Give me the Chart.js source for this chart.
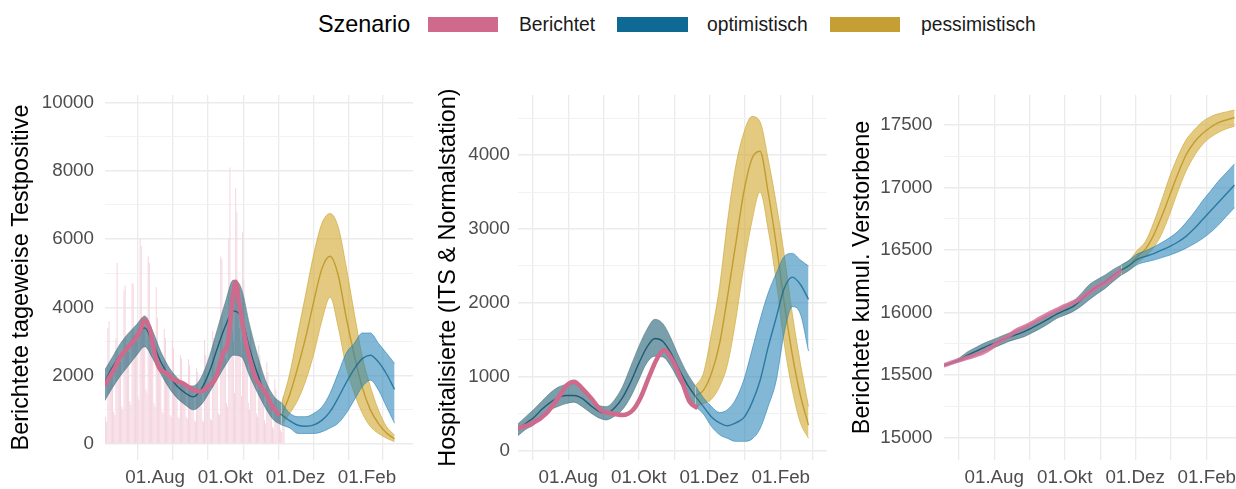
<!DOCTYPE html>
<html>
<head>
<meta charset="utf-8">
<script src="https://cdn.jsdelivr.net/npm/chart.js@4.4.1/dist/chart.umd.min.js"></script>
<style>
  body { margin: 0; width: 1236px; height: 489px; overflow: hidden; background: #fff; position: relative;
         font-family: 'Liberation Sans', Arial, sans-serif; }
  .panel { position: absolute; top: 80px; height: 409px; }
  .lg { position: absolute; top: 12px; height: 25px; line-height: 25px; white-space: nowrap; color: #1a1a1a; font-size: 19.3px; }
  .lg.title { font-size: 23.4px; color: #000; }
  .key { position: absolute; top: 17px; height: 15px; }
</style>
</head>
<body>
<div class="lg title" style="left:318px">Szenario</div>
<div class="key" style="left:428px;width:70px;background:#CF6A8D"></div>
<div class="lg" style="left:519px">Berichtet</div>
<div class="key" style="left:617px;width:71px;background:#0E6994"></div>
<div class="lg" style="left:707px">optimistisch</div>
<div class="key" style="left:830px;width:70px;background:#C59E34"></div>
<div class="lg" style="left:921px">pessimistisch</div>

<div class="panel" style="left:0;width:413px"><canvas id="c1"></canvas></div>
<div class="panel" style="left:420px;width:407px"><canvas id="c2"></canvas></div>
<div class="panel" style="left:836px;width:417px"><canvas id="c3"></canvas></div>

<script>
// x axis: days counted from 01.Jul
var monthDays = [0, 31, 62, 92, 123, 153, 184, 215, 243];
var monthLabels = ['', '01.Aug', '', '01.Okt', '', '01.Dez', '', '01.Feb', ''];

// model runs: fitted part (shared) and forecast part per scenario
var fitDays = [-13, -6, 1, 8, 15, 22, 29, 36, 43, 50, 57, 64, 71, 78, 85, 92, 99, 106, 113, 120, 127, 134, 141];
var fcDays = [141, 148, 155, 162, 169, 176, 183, 190, 197, 204, 211, 218, 225, 232, 239];

// panel 1: daily test positives
var barStartDay = -13;
var dailyCases = [
  1900, 800, 650,
  3400, 3600, 2300, 2200, 2000, 950, 850,
  3100, 5300, 2600, 2500, 2400, 1100, 1000,
  4500, 4650, 2900, 2800, 2700, 1250, 1150,
  4700, 4700, 3200, 3100, 3000, 1400, 1300,
  6000, 5800, 3600, 3500, 3400, 1600, 1500,
  5500, 5300, 2900, 2700, 2500, 1200, 1100,
  4600, 3700, 2200, 2100, 2000, 950, 900,
  3370, 3100, 2000, 1950, 1900, 850, 800,
  3050, 2800, 1850, 1800, 1750, 800, 750,
  2600, 2500, 1800, 1750, 1700, 800, 750,
  2480, 2300, 1650, 1600, 1550, 700, 650,
  2220, 2100, 1600, 1550, 1500, 700, 650,
  3050, 2600, 1700, 1650, 1600, 750, 700,
  3300, 3100, 2000, 1950, 1900, 900, 850,
  5490, 5400, 2700, 2600, 2500, 1200, 1100,
  6000, 8100, 3500, 3300, 3000, 1500, 7500,
  6800, 3800, 3400, 3000, 1400, 6200, 4800,
  3000, 2800, 2600, 1200, 1000, 3300, 2800,
  2300, 2100, 1900, 900, 800, 2900, 2600,
  1800, 1600, 1500, 700, 600, 2400, 2100,
  1400, 1200, 1100, 500, 450, 1900, 1600,
  1000, 900, 850, 400, 350, 1400, 1300
];
var p1RepDays = [-13, -5, 1, 8, 15, 19, 21, 24, 27, 30, 34, 41, 48, 55, 62, 70, 77, 84, 90, 94, 98, 101, 104, 110, 115, 118, 121, 127, 133, 139];
var p1RepVals = [1700, 2170, 2560, 2850, 3140, 3400, 3630, 3550, 3300, 2750, 2270, 2070, 1870, 1780, 1630, 1530, 1680, 1970, 2650, 2950, 4120, 4750, 4120, 2950, 2270, 1950, 1780, 1490, 1090, 850];
var p1FitLo  = [1250, 1650, 2000, 2300, 2600, 2850, 2500, 2050, 1650, 1350, 1150, 1000, 1150, 1500, 1900, 2300, 2600, 2550, 2000, 1500, 1050, 700, 560];
var p1FitHi  = [2150, 2550, 2950, 3250, 3500, 3750, 3300, 2700, 2250, 1950, 1750, 1700, 1950, 2550, 3350, 4150, 4800, 4550, 3500, 2600, 1850, 1400, 1200];
var p1FitMid = [1800, 2250, 2600, 2900, 3200, 3400, 2950, 2400, 2000, 1700, 1500, 1380, 1600, 2100, 2800, 3450, 3900, 3700, 2800, 2050, 1450, 1050, 850];
var p1PesLo  = [560, 900, 1290, 1870, 2660, 3630, 4300, 3430, 2260, 1490, 900, 510, 310, 170, 70];
var p1PesHi  = [1200, 2070, 3250, 4420, 5590, 6470, 6750, 6360, 5190, 3830, 2560, 1680, 995, 510, 260];
var p1PesMid = [850, 1450, 2250, 3150, 4200, 5150, 5500, 4950, 3700, 2600, 1650, 1000, 600, 320, 150];
var p1OptLo  = [560, 470, 310, 310, 310, 360, 470, 610, 900, 1290, 1680, 1870, 1580, 1090, 610];
var p1OptHi  = [1200, 900, 800, 800, 900, 1090, 1490, 2070, 2660, 2950, 3250, 3250, 2950, 2660, 2360];
var p1OptMid = [850, 680, 550, 520, 560, 700, 950, 1350, 1800, 2200, 2500, 2600, 2400, 2050, 1600];

// panel 2: hospitalised
var p2RepDays = [-13, 0, 12, 23, 30, 36, 43, 52, 59, 68, 78, 87, 94, 101, 108, 114, 121, 129, 136, 143];
var p2RepVals = [306, 374, 509, 734, 892, 937, 847, 689, 554, 509, 486, 554, 734, 1005, 1252, 1365, 1230, 959, 667, 577];
var p2FitLo  = [200, 290, 350, 460, 550, 600, 640, 660, 600, 520, 450, 420, 470, 560, 730, 960, 1190, 1280, 1270, 1140, 940, 760, 600];
var p2FitHi  = [360, 460, 560, 670, 780, 860, 900, 910, 850, 730, 620, 600, 690, 870, 1140, 1410, 1640, 1780, 1720, 1520, 1270, 1050, 880];
var p2FitMid = [280, 370, 450, 560, 650, 720, 750, 750, 710, 620, 540, 510, 580, 720, 930, 1180, 1400, 1520, 1480, 1320, 1100, 900, 740];
var p2PesLo  = [600, 640, 700, 870, 1180, 1770, 2500, 3100, 3500, 3000, 2300, 1450, 820, 380, 170];
var p2PesHi  = [880, 1050, 1590, 2220, 3120, 3850, 4300, 4520, 4450, 3950, 3350, 2650, 1850, 1180, 600];
var p2PesMid = [740, 820, 1050, 1450, 2100, 2800, 3500, 3950, 4050, 3500, 2800, 2000, 1300, 750, 350];
var p2OptLo  = [600, 500, 330, 220, 170, 130, 130, 160, 300, 600, 950, 1600, 1950, 1850, 1350];
var p2OptHi  = [880, 720, 600, 520, 560, 700, 960, 1360, 1770, 2130, 2400, 2630, 2670, 2580, 2500];
var p2OptMid = [740, 600, 460, 380, 340, 380, 450, 650, 950, 1400, 1800, 2200, 2350, 2250, 2050];

// panel 3: cumulative deaths
var p3RepVals = [15578, 15600, 15621, 15640, 15661, 15685, 15725, 15775, 15810, 15855, 15885, 15918, 15955, 15990, 16021, 16052, 16080, 16112, 16160, 16205, 16240, 16285, 16341];
var p3FitLo  = [15572, 15592, 15610, 15634, 15660, 15688, 15714, 15740, 15768, 15788, 15808, 15840, 15874, 15912, 15954, 15980, 16008, 16050, 16101, 16150, 16194, 16250, 16301];
var p3FitHi  = [15582, 15606, 15640, 15688, 15722, 15755, 15781, 15808, 15834, 15860, 15888, 15920, 15954, 15988, 16021, 16055, 16088, 16150, 16221, 16265, 16301, 16345, 16381];
var p3FitMid = [15577, 15599, 15625, 15661, 15691, 15721, 15748, 15774, 15801, 15824, 15848, 15880, 15914, 15950, 15988, 16018, 16048, 16100, 16161, 16208, 16248, 16298, 16341];
var p3PesLo  = [16301, 16340, 16400, 16450, 16520, 16630, 16790, 16970, 17130, 17250, 17340, 17400, 17440, 17470, 17490];
var p3PesHi  = [16381, 16420, 16500, 16570, 16720, 16900, 17090, 17250, 17380, 17460, 17525, 17565, 17590, 17605, 17620];
var p3PesMid = [16341, 16380, 16450, 16510, 16620, 16770, 16940, 17110, 17260, 17360, 17430, 17480, 17520, 17540, 17560];
var p3OptLo  = [16301, 16340, 16385, 16405, 16420, 16440, 16460, 16485, 16515, 16550, 16590, 16640, 16700, 16770, 16840];
var p3OptHi  = [16381, 16420, 16470, 16495, 16525, 16560, 16600, 16650, 16720, 16800, 16890, 16970, 17050, 17120, 17190];
var p3OptMid = [16341, 16378, 16428, 16450, 16472, 16500, 16530, 16565, 16610, 16670, 16740, 16810, 16880, 16950, 17020];

var FONT = "'Liberation Sans', Arial, sans-serif";
var PINK = '#CF6A8D';
var fitStyle = { fill: 'rgba(30,95,115,0.6)', edge: 'rgba(80,120,125,0.7)', mid: 'rgba(20,80,105,0.85)' };
var pesStyle = { fill: 'rgba(212,174,62,0.66)', edge: 'rgba(205,165,50,0.8)', mid: 'rgba(185,145,30,0.8)' };
var optStyle = { fill: 'rgba(40,132,182,0.58)', edge: 'rgba(40,130,180,0.75)', mid: 'rgba(14,100,145,0.75)' };

function toXY(days, vals) {
    return days.map(function (d, i) { return { x: d, y: vals[i] }; });
}

function bandSets(days, lo, hi, mid, st, order) {
    return [
        { data: toXY(days, lo), borderColor: st.edge, borderWidth: 0.8, fill: false, order: order + 2 },
        { data: toXY(days, hi), borderColor: st.edge, borderWidth: 0.8, fill: '-1', backgroundColor: st.fill, order: order + 1 },
        { data: toXY(days, mid), borderColor: st.mid, borderWidth: 1.4, fill: false, order: order }
    ];
}

function makePanel(id, datasets, y) {
    var labeled = y.labels;
    new Chart(document.getElementById(id), {
        type: 'line',
        data: { datasets: datasets },
        options: {
            responsive: true,
            maintainAspectRatio: false,
            animation: false,
            events: [],
            layout: { padding: { top: 15, left: 0, right: 0, bottom: 0 } },
            elements: {
                point: { radius: 0 },
                line: { cubicInterpolationMode: 'monotone' }
            },
            plugins: { legend: { display: false }, tooltip: { enabled: false } },
            scales: {
                x: {
                    type: 'linear', min: -12.5, max: 255, offset: false,
                    afterBuildTicks: function (s) { s.ticks = monthDays.map(function (v) { return { value: v }; }); },
                    afterFit: function (s) { s.height = 29; s.paddingLeft = 0; s.paddingRight = 0; },
                    grid: { color: '#EBEBEB', lineWidth: 1.3, drawTicks: false },
                    border: { display: false },
                    ticks: {
                        autoSkip: false, maxRotation: 0, padding: 7, color: '#4D4D4D',
                        font: { size: 18.8, family: FONT },
                        callback: function (v, i) { return monthLabels[i]; }
                    }
                },
                y: {
                    min: y.min, max: y.max,
                    afterBuildTicks: function (s) { s.ticks = y.grid.map(function (v) { return { value: v }; }); },
                    afterFit: function (s) { s.width = y.width; s.paddingTop = 0; s.paddingBottom = 0; },
                    grid: {
                        drawTicks: false,
                        color: function (c) { return labeled.indexOf(c.tick.value) >= 0 ? '#EBEBEB' : '#F2F2F2'; },
                        lineWidth: function (c) { return labeled.indexOf(c.tick.value) >= 0 ? 1.4 : 1; }
                    },
                    border: { display: false },
                    ticks: {
                        padding: y.pad, color: '#4D4D4D',
                        font: { size: 18.8, family: FONT },
                        callback: function (v) { return labeled.indexOf(v) >= 0 ? String(v) : ''; }
                    },
                    title: {
                        display: true, text: y.title, color: '#000',
                        font: { size: 23.4, family: FONT },
                        padding: { top: y.titlePad, bottom: 0 }
                    }
                }
            }
        }
    });
}

document.addEventListener('DOMContentLoaded', function () {
    Chart.defaults.font.family = FONT;

    // Panel 1
    var barDays = dailyCases.map(function (_, i) { return barStartDay + i; });
    var d1 = [].concat(
        bandSets(fitDays, p1FitLo, p1FitHi, p1FitMid, fitStyle, 14),
        bandSets(fcDays, p1PesLo, p1PesHi, p1PesMid, pesStyle, 8),
        bandSets(fcDays, p1OptLo, p1OptHi, p1OptMid, optStyle, 2),
        [{ data: toXY(p1RepDays, p1RepVals), borderColor: PINK, borderWidth: 4.5, fill: false, order: 0 },
         { type: 'bar', data: toXY(barDays, dailyCases), backgroundColor: '#F5D6E0',
           barPercentage: 0.9, categoryPercentage: 1, order: 30 }]
    );
    makePanel('c1', d1, {
        min: -468, max: 10220, width: 105, pad: 11, titlePad: 8,
        grid: [0, 1000, 2000, 3000, 4000, 5000, 6000, 7000, 8000, 9000, 10000],
        labels: [0, 2000, 4000, 6000, 8000, 10000],
        title: 'Berichtete tageweise Testpositive'
    });

    // Panel 2
    var d2 = [].concat(
        bandSets(fitDays, p2FitLo, p2FitHi, p2FitMid, fitStyle, 14),
        bandSets(fcDays, p2PesLo, p2PesHi, p2PesMid, pesStyle, 8),
        bandSets(fcDays, p2OptLo, p2OptHi, p2OptMid, optStyle, 2),
        [{ data: toXY(p2RepDays, p2RepVals), borderColor: PINK, borderWidth: 4.5, fill: false, order: 0 }]
    );
    makePanel('c2', d2, {
        min: -122, max: 4811, width: 98, pad: 8, titlePad: 15,
        grid: [0, 500, 1000, 1500, 2000, 2500, 3000, 3500, 4000, 4500],
        labels: [0, 1000, 2000, 3000, 4000],
        title: 'Hospitalisierte (ITS & Normalstation)'
    });

    // Panel 3
    var d3 = [].concat(
        bandSets(fitDays, p3FitLo, p3FitHi, p3FitMid, fitStyle, 14),
        bandSets(fcDays, p3PesLo, p3PesHi, p3PesMid, pesStyle, 8),
        bandSets(fcDays, p3OptLo, p3OptHi, p3OptMid, optStyle, 2),
        [{ data: toXY(fitDays, p3RepVals), borderColor: 'rgba(214,110,150,0.85)', borderWidth: 4.5, fill: false, order: 0 }]
    );
    makePanel('c3', d3, {
        min: 14822, max: 17740, width: 108, pad: 11.5, titlePad: 13,
        grid: [15000, 15250, 15500, 15750, 16000, 16250, 16500, 16750, 17000, 17250, 17500],
        labels: [15000, 15500, 16000, 16500, 17000, 17500],
        title: 'Berichtete kumul. Verstorbene'
    });
});
</script>
</body>
</html>
